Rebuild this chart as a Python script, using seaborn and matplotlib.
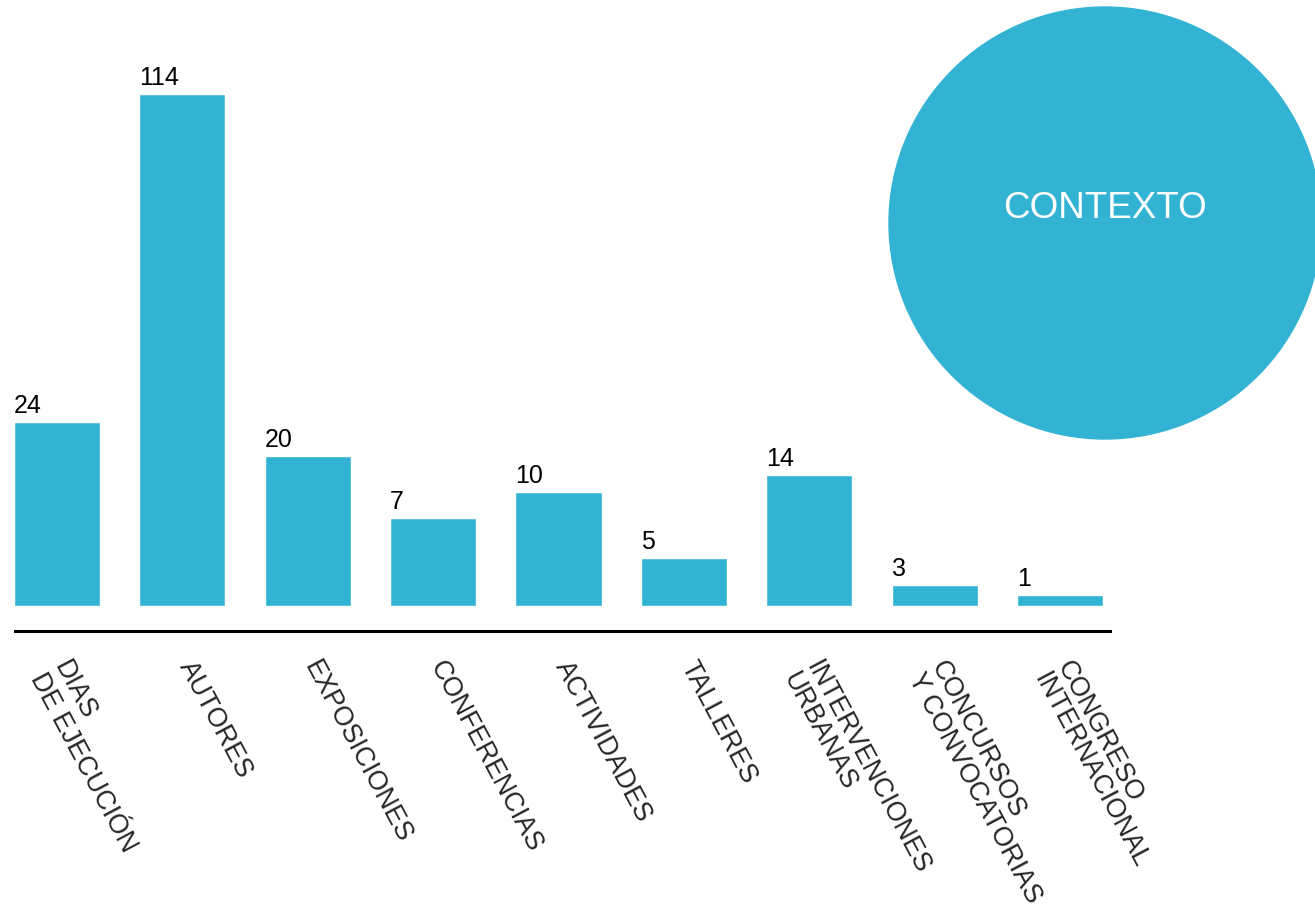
import matplotlib
matplotlib.use("Agg")
import matplotlib.pyplot as plt
from matplotlib.patches import Circle
from matplotlib.transforms import ScaledTranslation
import seaborn as sns
import pandas as pd

# ---- data ----
categories = ["DIAS\nDE EJECUCIÓN", "AUTORES", "EXPOSICIONES", "CONFERENCIAS",
              "ACTIVIDADES", "TALLERES", "INTERVENCIONES\nURBANAS",
              "CONCURSOS\nY CONVOCATORIAS", "CONGRESO\nINTERNACIONAL"]
values = [24, 114, 20, 7, 10, 5, 14, 3, 1]          # printed numbers
bar_heights = [184, 512, 150, 88, 114, 48, 131, 21, 11]  # drawn bar heights (infographic scale)
circle_label = "CONTEXTO"

BLUE = "#33B3D4"

sns.set_style("white")
plt.rcParams["font.family"] = ["Liberation Sans", "DejaVu Sans"]

W, H = 1315, 914
fig = plt.figure(figsize=(W / 100, H / 100), dpi=100)

# main axes: bottom spine is the black baseline
ax_l, ax_r, ax_b, ax_t = 15, 1110, 631, 0   # pixel frame (y from top)
ax = fig.add_axes([ax_l / W, (H - ax_b) / H, (ax_r - ax_l) / W, (ax_b - ax_t) / H])

df = pd.DataFrame({"cat": categories, "h": bar_heights})
sns.barplot(data=df, x="cat", y="h", color=BLUE, saturation=1, width=0.686, ax=ax)

step = 125.375
ax.set_xlim((ax_l - 57) / step, (ax_r - 57) / step)
ax.set_ylim(-25, 606)

for s in ["top", "left", "right"]:
    ax.spines[s].set_visible(False)
ax.spines["bottom"].set_color("black")
ax.spines["bottom"].set_linewidth(2.2)
ax.set_yticks([])
ax.set_xlabel("")
ax.set_ylabel("")
ax.tick_params(axis="x", length=0, pad=18.5)
ax.set_xticks(range(len(categories)))
ax.set_xticklabels(categories, rotation=-62, ha="left", va="top",
                   rotation_mode="anchor", fontsize=19.3, linespacing=1.0)
shift = ScaledTranslation(0.14, 0, fig.dpi_scale_trans)
for lbl in ax.get_xticklabels():
    lbl.set_transform(lbl.get_transform() + shift)

for patch, v in zip(ax.patches, values):
    ax.text(patch.get_x(), patch.get_height() + 9, str(v), ha="left",
            va="baseline", fontsize=18, color="black")

# circle with label
cx, cy, r = 1105, 223, 216
side = 2 * r + 8
cax = fig.add_axes([(cx - side / 2) / W, (H - cy - side / 2) / H, side / W, side / H])
cax.set_xlim(0, 1)
cax.set_ylim(0, 1)
cax.axis("off")
cax.add_patch(Circle((0.5, 0.5), r / side, color=BLUE, clip_on=False))
cax.text(0.5, 0.5 + 14 / side, circle_label, ha="center", va="center",
         color="white", fontsize=26.5)

fig.savefig("out.png", dpi=100)
